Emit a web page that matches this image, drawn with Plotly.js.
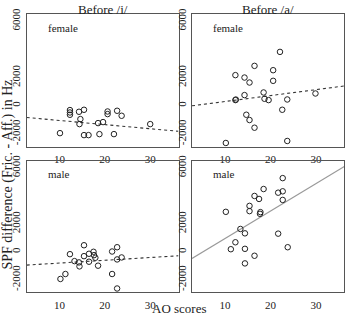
<!DOCTYPE html>
<html>
<head>
<meta charset="utf-8">
<script src="https://cdn.plot.ly/plotly-3.0.1.min.js"></script>
<style>html,body{margin:0;padding:0;background:#fff;}#chart{width:348px;height:313px;}</style>
</head>
<body>
<div id="chart"></div>
<script>
// Panel titles and labels
const columnTitles = ["Before /i/", "Before /a/"];
const rowLabels = ["female", "male"];
const xTickVals = [10, 20, 30];
const yTickVals = [-2000, 0, 2000, 6000];
const yTickText = ["-2000", "0", "2000", "6000"];

// Female, before /i/
const femaleIX = [10.1, 12.3, 12.3, 12.3, 14.3, 15.4, 14.6, 14.4, 15.4, 16.4, 18.5, 19.6, 18.8, 20.6, 20.6, 22.7, 23.7, 22.0, 30.0];
const femaleIY = [-1940, -305, -476, -639, -426, -284, -944, -1299, -2080, -2080, -1228, -1157, -2009, -405, -589, -355, -710, -2009, -1299];
// Female, before /a/
const femaleAX = [22.1, 16.5, 12.3, 14.3, 15.4, 20.6, 20.6, 14.3, 12.3, 12.4, 18.5, 18.7, 19.6, 23.7, 29.9, 22.6, 14.7, 15.4, 16.5, 10.2, 23.7];
const femaleAY = [3816, 2826, 2169, 1999, 1646, 2519, 1766, 756, 402, 440, 942, 494, 402, 445, 869, -283, -636, -1011, -1555, -2636, -2495];
// Male, before /i/
const maleIX = [15.4, 12.3, 15.4, 16.5, 17.5, 17.6, 17.9, 13.3, 14.3, 14.4, 16.5, 18.5, 11.3, 10.2, 21.6, 22.7, 22.7, 23.7, 21.6, 22.7];
const maleIY = [469, -170, -312, -142, 0, -241, -426, -667, -760, -1044, -710, -994, -1590, -1945, 21, 327, -547, -405, -1590, -2627];
// Male, before /a/
const maleAX = [22.7, 18.5, 16.5, 17.5, 21.7, 22.7, 22.7, 15.4, 15.4, 10.2, 17.8, 17.7, 13.4, 14.4, 21.7, 12.3, 11.3, 14.4, 23.8, 16.5, 14.4];
const maleAY = [5275, 4494, 3997, 3784, 4232, 4331, 3713, 3287, 2911, 2861, 2840, 2719, 1633, 1321, 1299, 682, 185, 213, 327, -284, -831];

// Regression lines (intercept, slope): [female i, female a, male i, male a]
const fitIntercept = [-749, -120, -1006, -1019];
const fitSlope = [-29.3, 42, 19.9, 196.6];

const xRange = [2.76, 36.24];
const yRange = [-2900, 6500];

const panels = [
  {x: femaleIX, y: femaleIY, xa: 'x', ya: 'y', dash: 'dot', lc: '#333'},
  {x: femaleAX, y: femaleAY, xa: 'x2', ya: 'y2', dash: 'dot', lc: '#333'},
  {x: maleIX, y: maleIY, xa: 'x3', ya: 'y3', dash: 'dot', lc: '#333'},
  {x: maleAX, y: maleAY, xa: 'x4', ya: 'y4', dash: 'solid', lc: '#999'}
];

const traces = [];
panels.forEach((p, i) => {
  traces.push({
    type: 'scatter', mode: 'lines', xaxis: p.xa, yaxis: p.ya,
    x: xRange, y: xRange.map(v => fitIntercept[i] + fitSlope[i] * v),
    line: {color: p.lc, width: 1.1, dash: p.dash}, hoverinfo: 'skip'
  });
  traces.push({
    type: 'scatter', mode: 'markers', xaxis: p.xa, yaxis: p.ya,
    x: p.x, y: p.y,
    marker: {symbol: 'circle-open', size: 5.5, color: '#222', line: {width: 1, color: '#222'}}
  });
});

const tickFont = {family: 'Liberation Serif, Times New Roman, serif', size: 11, color: '#222'};
function xax(domain, anchor) {
  return {domain: domain, anchor: anchor, range: xRange, tickvals: xTickVals, ticks: '',
    showgrid: false, zeroline: false, showline: true, mirror: true, linecolor: '#555', linewidth: 1,
    tickfont: tickFont, ticklabelstandoff: 2};
}
function yax(domain, anchor) {
  return {domain: domain, anchor: anchor, range: yRange, tickvals: yTickVals, ticktext: yTickText, ticks: '',
    tickangle: -90, showgrid: false, zeroline: false, showline: true, mirror: true, linecolor: '#555', linewidth: 1,
    tickfont: tickFont, ticklabelstandoff: 1};
}
const dxL = [26.7/348, 178.5/348], dxR = [192/348, 344.3/348];
const dyT = [(313-146.7)/313, (313-14)/313], dyB = [(313-292.3)/313, (313-161)/313];

const serif = 'Liberation Serif, Times New Roman, serif';
const annotations = [
  {text: columnTitles[0], x: 102.6/348, y: (313-10)/313},
  {text: columnTitles[1], x: 268/348, y: (313-10)/313},
].map(a => Object.assign(a, {xref: 'paper', yref: 'paper', showarrow: false, xanchor: 'center', yanchor: 'middle', font: {family: serif, size: 13, color: '#222'}}));
[[46, 28, rowLabels[0]], [211, 28, rowLabels[0]], [46, 174, rowLabels[1]], [211, 174, rowLabels[1]]].forEach(r => {
  annotations.push({text: r[2], x: r[0]/348, y: (313-r[1])/313, xref: 'paper', yref: 'paper', showarrow: false,
    xanchor: 'left', yanchor: 'middle', font: {family: serif, size: 11, color: '#222'}});
});
annotations.push({text: 'AO scores', x: 179/348, y: (313-308)/313, xref: 'paper', yref: 'paper', showarrow: false,
  xanchor: 'center', yanchor: 'middle', font: {family: serif, size: 13, color: '#222'}});
annotations.push({text: 'SPF difference (Fric. - Aff.) in Hz', x: 7.5/348, y: (313-175)/313, xref: 'paper', yref: 'paper', showarrow: false,
  xanchor: 'center', yanchor: 'middle', textangle: -90, font: {family: serif, size: 14, color: '#222'}});

const layout = {
  width: 348, height: 313, margin: {l: 0, r: 0, t: 0, b: 0},
  paper_bgcolor: '#fff', plot_bgcolor: '#fff', showlegend: false,
  xaxis: xax(dxL, 'y'), yaxis: yax(dyT, 'x'),
  xaxis2: xax(dxR, 'y2'), yaxis2: yax(dyT, 'x2'),
  xaxis3: xax(dxL, 'y3'), yaxis3: yax(dyB, 'x3'),
  xaxis4: xax(dxR, 'y4'), yaxis4: yax(dyB, 'x4'),
  annotations: annotations
};
Plotly.newPlot('chart', traces, layout, {displayModeBar: false, staticPlot: true});
</script>
</body>
</html>
